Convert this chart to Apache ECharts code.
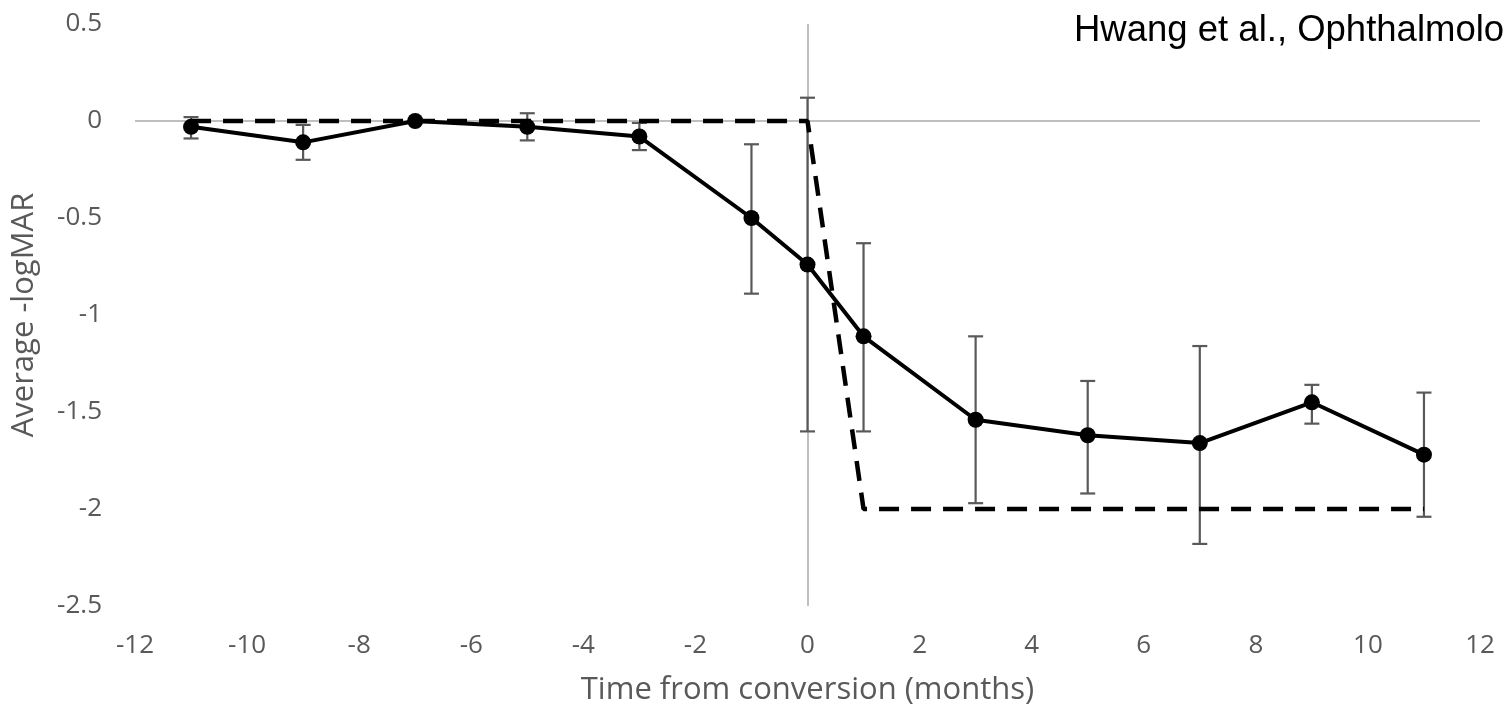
<!DOCTYPE html>
<html><head><meta charset="utf-8">
<script src="https://cdn.jsdelivr.net/npm/echarts@6/dist/echarts.min.js"></script>
<style>html,body{margin:0;padding:0;background:#fff;}#c{width:1508px;height:711px;}</style>
</head><body><div id="c"></div>
<script>
const months = [-11, -9, -7, -5, -3, -1, 0, 1, 3, 5, 7, 9, 11];
const meanValues = [-0.03, -0.11, 0.0, -0.03, -0.08, -0.50, -0.74, -1.11, -1.54, -1.62, -1.66, -1.45, -1.72];
const errLow = [-0.09, -0.20, 0.0, -0.10, -0.15, -0.89, -1.60, -1.60, -1.97, -1.92, -2.18, -1.56, -2.04];
const errHigh = [0.02, -0.02, 0.0, 0.04, -0.01, -0.12, 0.12, -0.63, -1.11, -1.34, -1.16, -1.36, -1.40];
const modelX = [-11, 0, 1, 11];
const modelY = [0, 0, -2, -2];
const xTicks = [-12, 12, 2];
const yTicks = [-2.5, 0.5, 0.5];

const mainData = months.map((m, i) => [m, meanValues[i]]);
const errData = months.map((m, i) => [m, errLow[i], errHigh[i]]);
const modelData = modelX.map((m, i) => [m, modelY[i]]);

const tickFont = { fontFamily: 'Open Sans', fontSize: 26, color: '#595959' };
const nameFont = { fontFamily: 'Open Sans', fontSize: 31, color: '#595959' };
const chart = echarts.init(document.getElementById('c'), null, { renderer: 'canvas' });
chart.setOption({
  animation: false,
  backgroundColor: '#fff',
  title: {
    text: 'Hwang et al., Ophthalmolo',
    left: 1069, top: 7,
    textStyle: { fontFamily: 'Liberation Sans', fontSize: 36.5, fontWeight: 'normal', color: '#000' }
  },
  grid: { left: 135, right: 28, top: 24, bottom: 104, containLabel: false },
  xAxis: {
    type: 'value', min: xTicks[0], max: xTicks[1], interval: xTicks[2],
    name: 'Time from conversion (months)', nameLocation: 'middle', nameGap: 69,
    nameTextStyle: nameFont,
    axisLine: { show: false }, axisTick: { show: false }, splitLine: { show: false },
    axisLabel: Object.assign({ margin: 27 }, tickFont)
  },
  yAxis: {
    type: 'value', min: yTicks[0], max: yTicks[1], interval: yTicks[2],
    name: 'Average -logMAR', nameLocation: 'middle', nameGap: 95, nameRotate: 90,
    nameTextStyle: nameFont,
    axisLine: { show: false }, axisTick: { show: false }, splitLine: { show: false },
    axisLabel: Object.assign({ margin: 33 }, tickFont)
  },
  series: [
    {
      type: 'line', data: [], silent: true, z: 1,
      markLine: {
        z: 1,
        symbol: 'none', silent: true, label: { show: false },
        lineStyle: { color: '#bfbfbf', width: 2, type: 'solid' },
        data: [{ yAxis: 0 }, { xAxis: 0 }]
      }
    },
    {
      type: 'custom', data: errData, z: 3,
      renderItem: function (params, api) {
        const x = api.value(0);
        const lo = api.coord([x, api.value(1)]);
        const hi = api.coord([x, api.value(2)]);
        const cap = 7.5;
        const st = { stroke: '#595959', lineWidth: 2.2 };
        return {
          type: 'group',
          children: [
            { type: 'line', shape: { x1: lo[0], y1: lo[1], x2: hi[0], y2: hi[1] }, style: st },
            { type: 'line', shape: { x1: lo[0] - cap, y1: lo[1], x2: lo[0] + cap, y2: lo[1] }, style: st },
            { type: 'line', shape: { x1: hi[0] - cap, y1: hi[1], x2: hi[0] + cap, y2: hi[1] }, style: st }
          ]
        };
      }
    },
    {
      type: 'line', data: modelData, z: 4, symbol: 'none',
      lineStyle: { color: '#000', width: 4.5, type: [20, 12] }
    },
    {
      type: 'line', data: mainData, z: 5, symbol: 'circle', symbolSize: 16,
      itemStyle: { color: '#000' },
      lineStyle: { color: '#000', width: 4 }
    }
  ]
});
</script></body></html>
